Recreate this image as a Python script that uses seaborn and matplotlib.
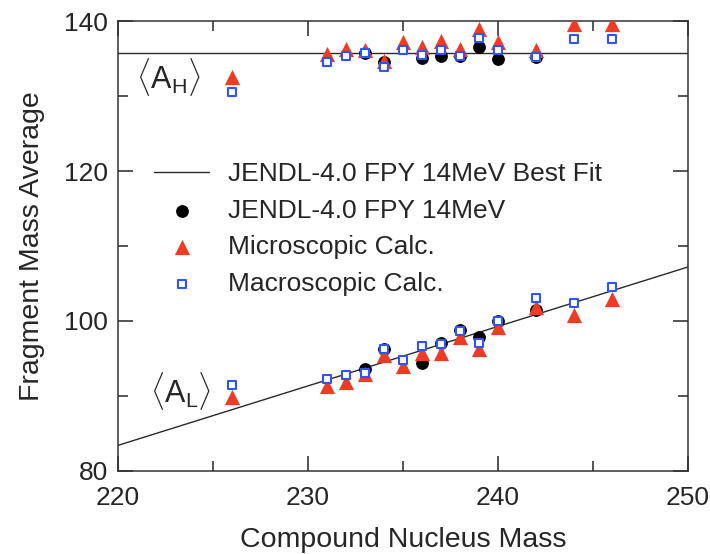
import matplotlib
matplotlib.use('Agg')
import matplotlib.pyplot as plt
from matplotlib.ticker import MultipleLocator
import numpy as np
import pandas as pd
import seaborn as sns

# compound nucleus masses for the model calculations
masses_calc = [226, 231, 232, 233, 234, 235, 236, 237, 238, 239, 240, 242, 244, 246]
micro_heavy = [132.5, 135.6, 136.3, 136.2, 134.7, 137.2, 136.5, 137.4, 136.3, 139.0, 137.2, 136.2, 139.6, 139.6]
macro_heavy = [130.6, 134.6, 135.3, 135.8, 133.9, 136.2, 135.5, 136.1, 135.4, 137.8, 136.2, 135.2, 137.6, 137.6]
micro_light = [89.8, 91.3, 91.8, 92.9, 95.5, 94.0, 95.7, 95.7, 97.8, 96.3, 99.2, 101.8, 100.8, 102.9]
macro_light = [91.5, 92.3, 92.8, 93.1, 96.3, 94.8, 96.6, 96.9, 98.7, 97.1, 100.0, 103.0, 102.4, 104.5]

# evaluated data (JENDL-4.0 FPY, 14 MeV)
masses_jendl = [233, 234, 236, 237, 238, 239, 240, 242]
jendl_heavy = [135.7, 134.6, 135.1, 135.3, 135.4, 136.6, 135.0, 135.2]
jendl_light = [93.6, 96.2, 94.4, 97.0, 98.8, 97.8, 100.0, 101.5]

# best fit lines
fit_x = [220, 250]
fit_heavy = [135.7, 135.7]
fit_light = [83.4, 107.2]

sns.set_style('ticks')
plt.rcParams['font.family'] = ['Liberation Sans', 'DejaVu Sans']
plt.rcParams['mathtext.fontset'] = 'custom'
plt.rcParams['mathtext.rm'] = 'Liberation Sans'
plt.rcParams['mathtext.it'] = 'Liberation Sans'

fs = 19
red = '#ee3b24'
blue = '#2f55f5'

fig = plt.figure(figsize=(7.1, 5.54), dpi=100)
ax = fig.add_axes([0.166, 0.150, 0.803, 0.812])

fit_df = pd.DataFrame({'x': fit_x, 'heavy': fit_heavy, 'light': fit_light})
sns.lineplot(data=fit_df, x='x', y='heavy', color='#2a2a2a', lw=1.0, ax=ax,
             label='JENDL-4.0 FPY 14MeV Best Fit')
sns.lineplot(data=fit_df, x='x', y='light', color='#2a2a2a', lw=1.0, ax=ax)

sns.scatterplot(x=masses_jendl, y=jendl_heavy, marker='o', s=85, color='black',
                edgecolor='black', linewidth=0, ax=ax, label='JENDL-4.0 FPY 14MeV', zorder=3)
sns.scatterplot(x=masses_jendl, y=jendl_light, marker='o', s=85, color='black',
                edgecolor='black', linewidth=0, ax=ax, zorder=3)

sns.scatterplot(x=masses_calc, y=micro_heavy, marker='^', s=120, color=red,
                edgecolor=red, linewidth=0, ax=ax, label='Microscopic Calc.', zorder=4)
sns.scatterplot(x=masses_calc, y=micro_light, marker='^', s=120, color=red,
                edgecolor=red, linewidth=0, ax=ax, zorder=4)

sns.scatterplot(x=masses_calc, y=macro_heavy, marker='s', s=40, color='white',
                edgecolor=blue, linewidth=1.5, ax=ax, label='Macroscopic Calc.', zorder=5)
sns.scatterplot(x=masses_calc, y=macro_light, marker='s', s=40, color='white',
                edgecolor=blue, linewidth=1.5, ax=ax, zorder=5)

ax.set_xlim(220, 250)
ax.set_ylim(80, 140)
ax.xaxis.set_major_locator(MultipleLocator(10))
ax.xaxis.set_minor_locator(MultipleLocator(5))
ax.yaxis.set_major_locator(MultipleLocator(20))
ax.yaxis.set_minor_locator(MultipleLocator(10))
ax.tick_params(which='both', direction='in', top=True, right=True, width=1.1,
               labelsize=fs)
ax.tick_params(axis='x', which='both', pad=11)
ax.tick_params(axis='y', which='both', pad=7)
ax.tick_params(which='major', length=11)
ax.tick_params(which='minor', length=7)
for sp in ax.spines.values():
    sp.set_linewidth(1.1)
    sp.set_color('#333333')

ax.set_xlabel('Compound Nucleus Mass', fontsize=fs + 1.5, labelpad=12)
ax.set_ylabel('Fragment Mass Average', fontsize=fs + 1.5, labelpad=14)

ax.text(222.65, 132.6, r'$\langle\mathrm{A}_\mathrm{H}\rangle$', fontsize=fs + 3,
        ha='center', va='center')
ax.text(223.3, 90.6, r'$\langle\mathrm{A}_\mathrm{L}\rangle$', fontsize=fs + 3,
        ha='center', va='center')

ax.legend(loc='upper left', bbox_to_anchor=(0.045, 0.71), frameon=False, fontsize=fs,
          handlelength=2.1, handletextpad=0.7, labelspacing=0.48, borderaxespad=0)

fig.savefig('out.png', dpi=100)
